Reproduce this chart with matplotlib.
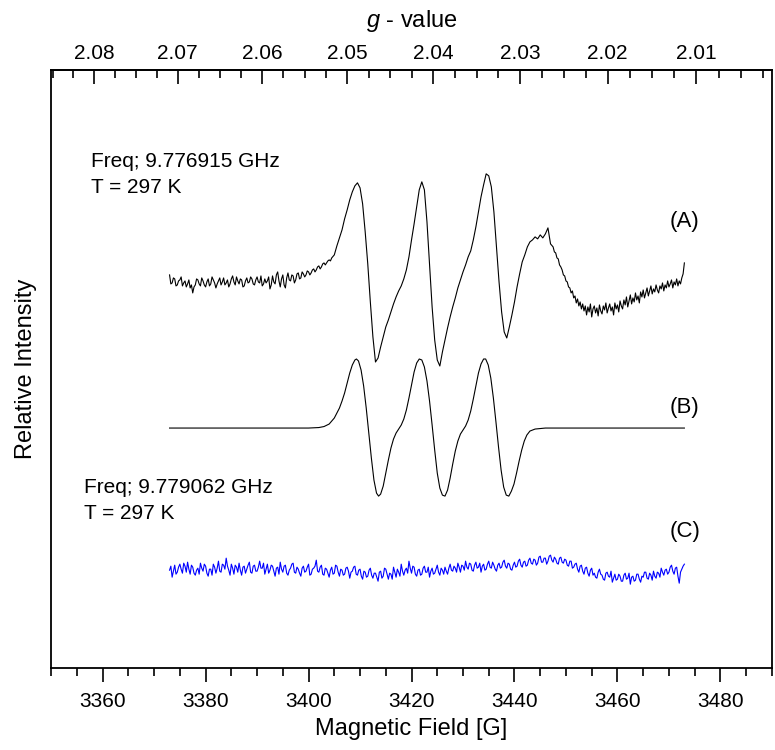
import numpy as np
import matplotlib
matplotlib.use("Agg")
import matplotlib.pyplot as plt
from matplotlib.ticker import MultipleLocator, FixedLocator, NullLocator, FormatStrFormatter

plt.rcParams['font.family'] = ['Liberation Sans', 'DejaVu Sans']
plt.rcParams['mathtext.fontset'] = 'custom'
plt.rcParams['mathtext.it'] = 'Liberation Sans:italic'
plt.rcParams['mathtext.rm'] = 'Liberation Sans'

# (A) experimental spectrum, relative to its baseline, read in three pieces
# 3373.0 - 3404.5 G, 0.25 G steps
a_left = [
    7, -2, -1, 4, 3, -4, -3, 1, 2, 5, -4, -1, 1, -5, -2, 2, -6, -3, -11, -5,
    -3, 3, 2, -2, -4, 4, 1, -3, -5, 0, 3, -4, -2, 5, 2, -1, -6, -2, 1, 4,
    -3, 0, 4, -3, -1, 2, -5, -2, 3, 6, 0, -3, 5, 1, -2, 3, 2, -5, -4, 1,
    4, -1, 0, 5, 3, -2, -3, 2, 5, 0, -1, 6, -4, -2, 3, -1, 1, 5, -7, -3,
    6, 0, -2, 7, 10, 1, -5, 3, 7, -3, -6, 4, 9, 2, 1, 7, 6, -1, 2, 8,
    9, 3, 4, 10, 8, 5, 7, 11, 10, 7, 9, 12, 13, 10, 12, 15, 16, 13, 15, 18,
    19, 17, 19, 21, 22, 21, 24,
]
# 3405.0 - 3447.0 G, 0.5 G steps
a_mid = [
    27, 36, 44, 52, 63, 72, 82, 90, 96, 99,
    94, 78, 50, 18, -20, -55, -80, -76, -65, -55,
    -45, -38, -30, -22, -15, -9, -4, 3, 12, 25,
    42, 58, 75, 92, 100, 92, 60, 18, -25, -58,
    -78, -84, -70, -58, -46, -35, -25, -16, -6, 2,
    10, 17, 25, 31, 42, 55, 70, 85, 97, 108,
    106, 95, 70, 35, 0, -30, -50, -56, -45, -33,
    -20, -5, 8, 20, 27, 35, 40, 42, 45, 43,
    47, 44, 48, 54, 38,
]
# 3447.5 - 3473.0 G, 0.25 G steps
a_right = [
    35, 30, 29, 24, 23, 17, 15, 12, 7, 6, 1, 0, -5, -6, -11, -9, -16, -14, -21, -17,
    -24, -20, -27, -22, -29, -24, -33, -25, -30, -22, -35, -27, -24, -31, -26, -34, -23, -29, -32, -24,
    -28, -21, -31, -26, -22, -29, -25, -33, -21, -27, -23, -30, -19, -24, -27, -18, -23, -15, -25, -19,
    -13, -22, -16, -20, -11, -18, -14, -21, -10, -15, -8, -16, -11, -6, -14, -9, -4, -12, -7, -10,
    -3, -8, -11, -4, -7, -1, -9, -3, -6, 1, -5, -2, 2, -6, 0, -3, 3, -4, 1, -2,
    4, 8, 19,
]
a_ranges = [(3373.0, 3404.5), (3405.0, 3447.0), (3447.5, 3473.0)]

# (B) simulated spectrum
field_b = [
    3373.0, 3400.0, 3402.0, 3403.0, 3404.0, 3405.0, 3406.0, 3406.5, 3407.0, 3407.5,
    3408.0, 3408.5, 3409.0, 3409.3, 3409.7, 3410.2, 3410.7, 3411.2, 3411.7, 3412.2,
    3412.7, 3413.2, 3413.6, 3414.0, 3414.5, 3415.0, 3415.5, 3416.0, 3416.5, 3417.0,
    3417.5, 3418.0, 3418.5, 3419.0, 3419.5, 3420.0, 3420.5, 3421.0, 3421.5, 3422.0,
    3422.5, 3423.0, 3423.5, 3424.0, 3424.5, 3425.0, 3425.5, 3426.0, 3426.5, 3427.0,
    3427.5, 3428.0, 3428.5, 3429.0, 3429.5, 3430.0, 3430.5, 3431.0, 3431.5, 3432.0,
    3432.5, 3433.0, 3433.5, 3434.0, 3434.4, 3434.9, 3435.4, 3435.9, 3436.4, 3436.9,
    3437.4, 3437.9, 3438.4, 3438.9, 3439.4, 3439.9, 3440.4, 3440.9, 3441.4, 3441.9,
    3442.4, 3443.0, 3444.0, 3446.0, 3473.0,
]
spec_b = [
    0, 0, 0.5, 1.5, 4, 10, 20, 27, 35, 45,
    55, 63, 68, 69, 67, 58, 42, 20, -5, -30,
    -52, -65, -68, -66, -58, -45, -32, -20, -11, -5,
    -1, 3, 9, 18, 30, 43, 56, 65, 69, 68,
    61, 47, 27, 3, -22, -45, -60, -67, -68, -62,
    -50, -36, -23, -13, -6, -2, 2, 8, 17, 29,
    42, 55, 64, 69, 69, 63, 50, 30, 6, -19,
    -42, -59, -67, -68, -63, -56, -45, -33, -22, -13,
    -7, -3, -1, 0, 0,
]

# (C) second spectrum, 3373.0 - 3473.0 G, 0.25 G steps
spec_c = [
    0, 4, -7, -1, 5, -4, -2, 3, 6, 1, -3, 7, 4, -2, 8, 1, -4, 5, 3, -3,
    -5, 0, 2, -4, 7, 2, -1, 6, 4, -3, -6, 1, 1, -5, 6, 3, -3, 2, 9, -1,
    -2, 6, 5, 1, 12, 4, 0, -5, 6, 2, -4, 5, 3, -2, 7, 0, -5, 3, 4, -3,
    1, 5, 8, -2, -3, 4, 5, -1, -1, 3, 9, 2, 2, 7, -4, 1, 6, -3, 0, 5,
    4, -1, -6, 2, 3, -4, 8, 1, -2, 4, 5, -3, -5, 0, 2, 6, 7, -2, -3, 3,
    1, -3, -6, 2, 4, -2, -1, 3, 6, -5, -4, 1, 2, 4, 10, -1, -2, 3, 5, -4,
    -5, 2, 1, -3, -7, 0, 3, -4, -3, 5, 4, -2, -6, 1, 0, -5, -4, 2, 3, -1,
    -8, -2, -1, 3, 4, -4, -5, 0, 1, -6, -9, -1, -2, -7, -6, 0, 2, -5, -8, -3,
    -3, -7, -11, -2, -1, -8, -6, 2, 1, -4, -9, -3, -4, -9, 3, -2, -7, 1, -2, -6,
    6, -1, -5, 0, 2, -3, 9, 2, -3, 4, 3, -4, -6, 0, 1, -5, -4, 2, 4, -2,
    -2, 3, -7, -1, 2, -4, -3, 1, 5, -2, -5, 2, 0, -4, 3, -1, -4, 2, 6, 0,
    -1, 4, 2, -2, 7, 3, -2, 5, 4, 0, 9, 3, 1, 7, 6, 0, -1, 5, 8, 2,
    3, 7, -2, 4, 6, 0, 1, 6, 9, 3, 2, 8, 5, 1, -1, 5, 7, 2, 3, 8,
    10, 4, 2, 7, 6, 1, 0, 5, 8, 3, 4, 9, 11, 5, 3, 8, 9, 4, 5, 10,
    12, 7, 6, 11, 10, 5, 7, 13, 14, 8, 8, 12, 12, 6, 9, 14, 15, 10, 8, 13,
    11, 7, 6, 12, 13, 8, 7, 11, 10, 5, 4, 9, 9, 2, 3, 6, 7, 1, -2, 4,
    5, -1, -4, 2, 3, -3, -6, 0, 2, -5, -3, -7, -8, -2, 1, -4, -5, -9, -10, -3,
    -2, -6, -7, -1, -12, -8, -4, -10, -9, -4, -6, -11, -11, -5, -3, -9, -8, -3, -14, -7,
    -6, -11, -10, -4, -4, -9, -12, -6, -7, -2, -2, -8, -9, -3, -5, -10, -1, -6, -8, -2,
    -3, -7, 2, -2, -5, 0, 1, -4, -2, 3, 5, -1, -4, 2, 3, -6, -13, -2, 1, 4,
    6,
]
c_range = (3373.0, 3473.0)

g_ticks = [2.08, 2.07, 2.06, 2.05, 2.04, 2.03, 2.02, 2.01]
freq_a = 9776.915  # MHz
g_const = 0.71447751 * freq_a  # g * B[G]

labels = ["(A)", "(B)", "(C)"]

fig = plt.figure(figsize=(7.75, 7.5), dpi=100)
ax = fig.add_axes([0.066, 0.109, 0.930, 0.798])

field_a = np.concatenate([np.linspace(lo, hi, len(seg)) for (lo, hi), seg
                          in zip(a_ranges, [a_left, a_mid, a_right])])
spec_a = np.concatenate([a_left, a_mid, a_right])
field_c = np.linspace(c_range[0], c_range[1], len(spec_c))

ax.plot(field_a, spec_a + 386, color='black', lw=0.8)
ax.plot(field_b, np.array(spec_b) + 240, color='black', lw=0.8)
ax.plot(field_c, np.array(spec_c) + 98, color='#0000ff', lw=0.8)

ax.set_xlim(3350, 3490)
ax.set_ylim(0, 598)

ax.xaxis.set_major_locator(MultipleLocator(20))
ax.xaxis.set_minor_locator(MultipleLocator(5))
ax.yaxis.set_major_locator(NullLocator())
ax.tick_params(axis='x', which='major', direction='out', length=10, width=1.2,
               labelsize=15, pad=7, top=False)
ax.tick_params(axis='x', which='minor', direction='out', length=6, width=1.2, top=False)
for s in ax.spines.values():
    s.set_linewidth(1.3)

ax.set_xlabel("Magnetic Field [G]", fontsize=17, labelpad=5)
ax.set_ylabel("Relative Intensity", fontsize=17, labelpad=10)

top = ax.secondary_xaxis('top', functions=(lambda b: g_const / b, lambda g: g_const / g))
top.xaxis.set_major_locator(FixedLocator(g_ticks))
top.xaxis.set_minor_locator(MultipleLocator(0.0025))
top.tick_params(which='major', direction='in', length=10, width=1.2, labelsize=15, pad=5)
top.tick_params(which='minor', direction='in', length=6, width=1.2)
top.xaxis.set_major_formatter(FormatStrFormatter('%.2f'))
top.set_xlabel("$\\it{g}$ - value", fontsize=17, labelpad=12)
top.spines['top'].set_linewidth(1.3)

ax.text(3357.8, 501, "Freq; 9.776915 GHz", fontsize=15, va='baseline')
ax.text(3357.8, 475, "T = 297 K", fontsize=15, va='baseline')
ax.text(3356.4, 175, "Freq; 9.779062 GHz", fontsize=15, va='baseline')
ax.text(3356.4, 149, "T = 297 K", fontsize=15, va='baseline')

for lab, yy in zip(labels, [446, 261, 137]):
    ax.text(3470.2, yy, lab, fontsize=16, va='center')

fig.savefig("out.png", dpi=100)
